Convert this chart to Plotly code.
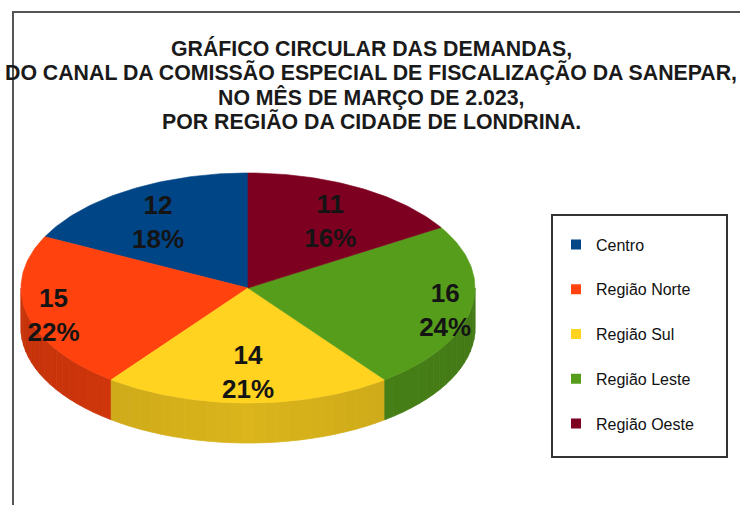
import math
import plotly.graph_objects as go

# ---------------- data ----------------
categories = ["Centro", "Região Norte", "Região Sul", "Região Leste", "Região Oeste"]
values = [12, 15, 14, 16, 11]
colors = ["#004586", "#ff420e", "#ffd320", "#579d1c", "#7e0021"]
title_lines = [
    "GRÁFICO CIRCULAR DAS DEMANDAS,",
    "DO CANAL DA COMISSÃO ESPECIAL DE FISCALIZAÇÃO DA SANEPAR,",
    "NO MÊS DE MARÇO DE 2.023,",
    "POR REGIÃO DA CIDADE DE LONDRINA.",
]

# ---------------- geometry (pixel space) ----------------
W, H = 740, 505
CX, CY, A, B, DEPTH = 248, 288, 227, 115, 40
FONT = "Liberation Sans, Arial, sans-serif"


def hex_to_rgb(h):
    h = h.lstrip("#")
    return tuple(int(h[i:i + 2], 16) for i in (0, 2, 4))


def shade(h, f):
    r, g, b = hex_to_rgb(h)
    return "rgb(%d,%d,%d)" % (min(255, r * f), min(255, g * f), min(255, b * f))


def pt(t_deg, r=1.0, dy=0.0):
    t = math.radians(t_deg)
    return CX + A * r * math.cos(t), CY - B * r * math.sin(t) + dy


total = sum(values)
bounds = [90.0]
for v in values:
    bounds.append(bounds[-1] + 360.0 * v / total)

fig = go.Figure()

# side walls (front half only: angles 180..360)
for i, col in enumerate(colors):
    t0, t1 = max(bounds[i], 180.0), min(bounds[i + 1], 360.0)
    if t1 <= t0:
        continue
    n = max(1, int(math.ceil((t1 - t0) / 3.0)))
    for k in range(n):
        ta = t0 + (t1 - t0) * k / n
        tb = t0 + (t1 - t0) * (k + 1) / n
        tm = math.radians((ta + tb) / 2)
        f = 0.86 - 0.08 * abs(math.cos(tm))
        steps = [ta + (tb - ta) * j / 4 for j in range(5)]
        top = [pt(s) for s in steps]
        bot = [pt(s, dy=DEPTH) for s in reversed(steps)]
        poly = top + bot + [top[0]]
        c = shade(col, f)
        fig.add_trace(go.Scatter(
            x=[p[0] for p in poly], y=[p[1] for p in poly],
            mode="lines", fill="toself", fillcolor=c,
            line=dict(color=c, width=0.8), hoverinfo="skip", showlegend=False))

# top faces
for i, col in enumerate(colors):
    t0, t1 = bounds[i], bounds[i + 1]
    n = max(2, int(t1 - t0))
    arc = [pt(t0 + (t1 - t0) * j / n) for j in range(n + 1)]
    poly = [(CX, CY)] + arc + [(CX, CY)]
    fig.add_trace(go.Scatter(
        x=[p[0] for p in poly], y=[p[1] for p in poly],
        mode="lines", fill="toself", fillcolor=col,
        line=dict(color=col, width=0.6), name=categories[i],
        hoverinfo="name", showlegend=False))

# value / percent labels
lx, ly, lt = [], [], []
for i, v in enumerate(values):
    tm = (bounds[i] + bounds[i + 1]) / 2
    c = math.cos(math.radians(tm))
    s = math.sin(math.radians(tm))
    r = 0.70 + 0.19 * c * c
    x, y = pt(tm, r=r, dy=6 + 5 * max(0.0, s))
    lx.append(x)
    ly.append(y)
    lt.append("%d<br>%d%%" % (v, round(100.0 * v / total)))
fig.add_trace(go.Scatter(
    x=lx, y=ly, text=lt, mode="text", textposition="middle center",
    textfont=dict(family=FONT, size=26, color="#141414", weight="bold"),
    hoverinfo="skip", showlegend=False))

# legend-only entries
for cat, col in zip(categories, colors):
    fig.add_trace(go.Scatter(
        x=[None], y=[None], mode="markers", name=cat, legendgroup=cat,
        marker=dict(symbol="square", size=10, color=col), showlegend=True))

# title lines
title_y = [48, 72, 97, 121]
for txt, y in zip(title_lines, title_y):
    fig.add_annotation(
        x=371, y=y, xref="x", yref="y", text=txt, showarrow=False,
        font=dict(family=FONT, size=21.3, color="#1a1a1a", weight="bold"),
        xanchor="center", yanchor="middle")

# outer frame and legend box
fig.add_shape(type="rect", xref="x", yref="y", x0=13, y0=12, x1=760, y1=520,
              line=dict(color="#555555", width=2), layer="below")
fig.add_shape(type="rect", xref="x", yref="y", x0=552, y0=215, x1=727, y1=457,
              line=dict(color="#333333", width=2), layer="below")

fig.update_layout(
    width=W, height=H,
    margin=dict(l=0, r=0, t=0, b=0),
    paper_bgcolor="white", plot_bgcolor="white",
    xaxis=dict(range=[0, W], visible=False, fixedrange=True),
    yaxis=dict(range=[H, 0], visible=False, fixedrange=True),
    showlegend=True,
    legend=dict(
        x=556 / W, y=1 - 227.5 / H, xanchor="left", yanchor="top",
        font=dict(family=FONT, size=16, color="#111111"),
        bgcolor="rgba(0,0,0,0)", borderwidth=0,
        tracegroupgap=21, itemclick=False, itemdoubleclick=False),
)

fig.write_html("out.html", config={"displayModeBar": False},
               post_script="document.body.style.margin='0px';")
